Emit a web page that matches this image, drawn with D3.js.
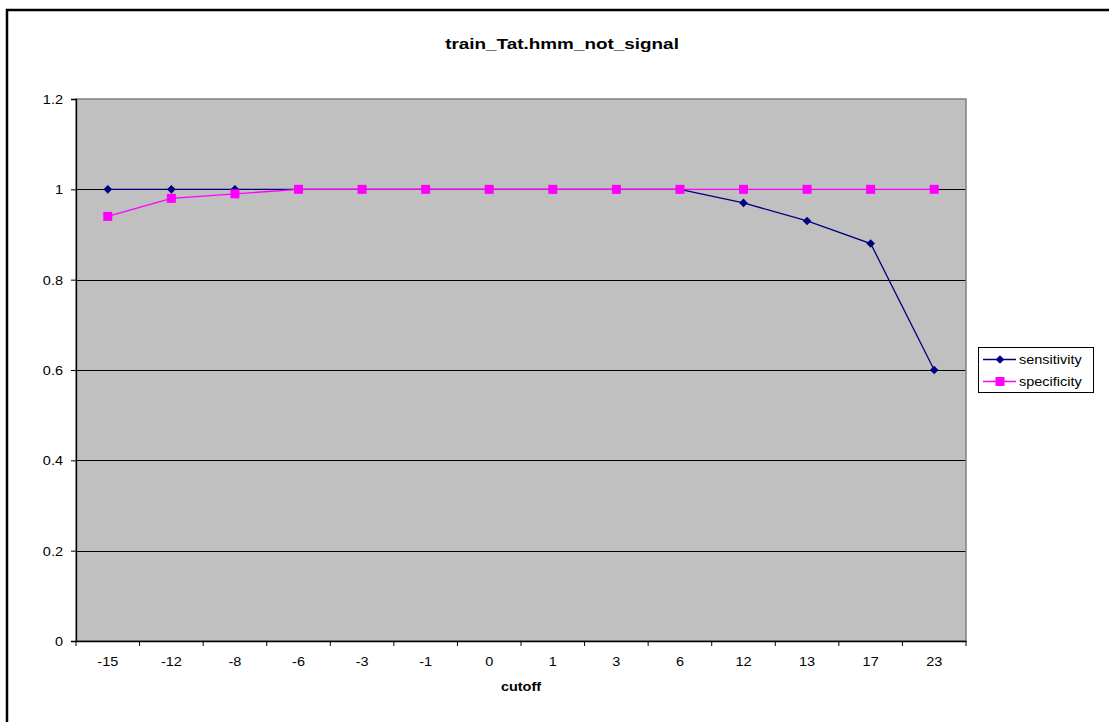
<!DOCTYPE html>
<html><head><meta charset="utf-8">
<script src="https://cdn.jsdelivr.net/npm/d3@7"></script>
<style>body{margin:0;background:#fff;} text{font-family:"Liberation Sans",Arial,sans-serif;}</style>
</head><body>
<svg id="c" width="1109" height="722"></svg>
<script>
const categories = ["-15","-12","-8","-6","-3","-1","0","1","3","6","12","13","17","23"];
const sensitivity = [1,1,1,1,1,1,1,1,1,1,0.97,0.93,0.88,0.6];
const specificity = [0.94,0.98,0.99,1,1,1,1,1,1,1,1,1,1,1];
const yTicks = [0,0.2,0.4,0.6,0.8,1,1.2];
const title = "train_Tat.hmm_not_signal";
const xTitle = "cutoff";

const SX = 1.16; // horizontal stretch of the original rendering
const svg = d3.select("#c");
svg.append("rect").attr("x",7).attr("y",10).attr("width",1200).attr("height",800)
  .attr("fill","none").attr("stroke","#000").attr("stroke-width",2.5);

const L=76,T=99,R=966,B=641;
const x = d3.scaleBand().domain(categories).range([L,R]);
const y = d3.scaleLinear().domain([0,1.2]).range([B,T]);

svg.append("rect").attr("x",L).attr("y",T).attr("width",R-L).attr("height",B-T).attr("fill","#c0c0c0");
svg.append("g").selectAll("line").data(yTicks.filter(d=>d>0&&d<1.2)).join("line")
  .attr("x1",L).attr("x2",R).attr("y1",d=>Math.round(y(d))+0.5).attr("y2",d=>Math.round(y(d))+0.5)
  .attr("stroke","#000").attr("stroke-width",1);
svg.append("rect").attr("x",L).attr("y",T).attr("width",R-L).attr("height",B-T)
  .attr("fill","none").attr("stroke","#808080").attr("stroke-width",1.5);

// y axis
const ya = svg.append("g").attr("transform",`translate(${L},0)`)
  .call(d3.axisLeft(y).tickValues(yTicks).tickSize(5).tickFormat(d=>d3.format("")(d)));
ya.select(".domain").attr("stroke","#000").attr("stroke-width",1.3);
ya.selectAll(".tick text").attr("font-size",12.5).attr("fill","#000").attr("x",0).attr("dy","0.35em")
  .attr("transform",`translate(-13,0) scale(${SX},1)`).style("font-family","Liberation Sans, Arial");
// x axis
const xa = svg.append("g").attr("transform",`translate(0,${B})`)
  .call(d3.axisBottom(x).tickSize(0));
xa.select(".domain").attr("stroke","#000").attr("stroke-width",1.3);
xa.selectAll(".tick text").attr("font-size",12.5).attr("fill","#000").attr("y",0).attr("dy",0)
  .attr("transform",`translate(0,25) scale(${SX},1)`).style("font-family","Liberation Sans, Arial");
const bounds = categories.map(c=>x(c)).concat([R]);
xa.append("g").selectAll("line").data(bounds).join("line")
  .attr("x1",d=>d).attr("x2",d=>d).attr("y1",0).attr("y2",5).attr("stroke","#000");

const diamond = (r)=>`M0,${-r}L${r},0L0,${r}L${-r},0Z`;
const cx = c=>x(c)+x.bandwidth()/2;
const line = d3.line().x((d,i)=>cx(categories[i])).y(d=>y(d));
svg.append("path").attr("d",line(sensitivity)).attr("fill","none").attr("stroke","#000080").attr("stroke-width",1.3);
svg.append("path").attr("d",line(specificity)).attr("fill","none").attr("stroke","#ff00ff").attr("stroke-width",1.3);
svg.append("g").selectAll("path").data(sensitivity).join("path")
  .attr("d",diamond(4.3)).attr("transform",(d,i)=>`translate(${cx(categories[i])},${y(d)})`)
  .attr("fill","#000080");
svg.append("g").selectAll("rect").data(specificity).join("rect")
  .attr("x",(d,i)=>cx(categories[i])-4.5).attr("y",d=>y(d)-4.5).attr("width",9).attr("height",9).attr("fill","#ff00ff");

svg.append("text").attr("transform","translate(562,49) scale(1.35,1)").attr("text-anchor","middle")
  .attr("font-size",14).attr("font-weight","bold").text(title);
svg.append("text").attr("transform",`translate(521,691) scale(${SX},1)`).attr("text-anchor","middle")
  .attr("font-size",12.5).attr("font-weight","bold").text(xTitle);

// legend
const lg = svg.append("g");
lg.append("rect").attr("x",978.5).attr("y",347.5).attr("width",115).attr("height",45).attr("fill","#fff").attr("stroke","#000");
const items=[{n:"sensitivity",c:"#000080",s:"d"},{n:"specificity",c:"#ff00ff",s:"s"}];
items.forEach((it,i)=>{
  const yy = 359.5 + i*22;
  lg.append("line").attr("x1",983).attr("x2",1016).attr("y1",yy).attr("y2",yy).attr("stroke",it.c).attr("stroke-width",1.3);
  if(it.s==="d") lg.append("path").attr("d",diamond(4.3)).attr("transform",`translate(1000,${yy})`).attr("fill",it.c);
  else lg.append("rect").attr("x",995.5).attr("y",yy-4.5).attr("width",9).attr("height",9).attr("fill",it.c);
  lg.append("text").attr("transform",`translate(1019,${yy+4.5}) scale(${SX},1)`).attr("font-size",12.5).text(it.n);
});
</script>
</body></html>
